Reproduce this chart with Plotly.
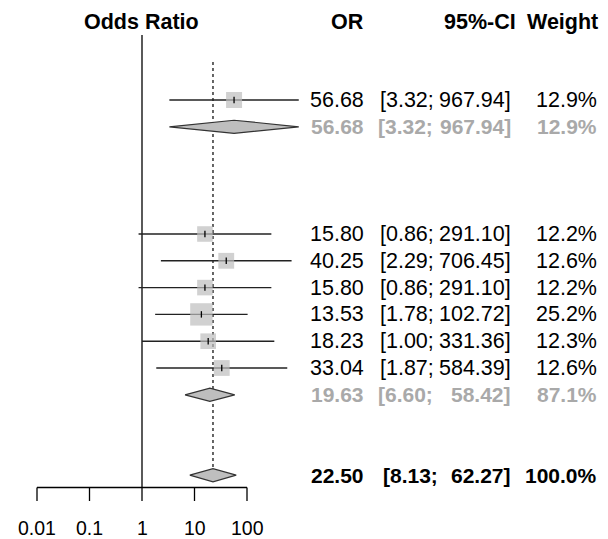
import math
import plotly.graph_objects as go

# ---------------- data ----------------
study_or = [56.68, 15.80, 40.25, 15.80, 13.53, 18.23, 33.04]
study_lo = [3.32, 0.86, 2.29, 0.86, 1.78, 1.00, 1.87]
study_hi = [967.94, 291.10, 706.45, 291.10, 102.72, 331.36, 584.39]
study_w = [12.9, 12.2, 12.6, 12.2, 25.2, 12.3, 12.6]
study_row = [0, 5, 6, 7, 8, 9, 10]

sub_or = [56.68, 19.63]
sub_lo = [3.32, 6.60]
sub_hi = [967.94, 58.42]
sub_w = [12.9, 87.1]
sub_row = [1, 11]

tot_or = 22.50
tot_lo = 8.13
tot_hi = 62.27
tot_w = 100.0
tot_row = 14

tick_vals = [0.01, 0.1, 1, 10, 100]
tick_text = ["0.01", "0.1", "1", "10", "100"]
headers = ["Odds Ratio", "OR", "95%-CI", "Weight"]

# ---------------- geometry (target = page pixels) ----------------
OFF = 8                      # default body margin of the html page
W, H = 608 - OFF, 539 - OFF  # figure size
PX0 = 142.0 - OFF            # figure pixel of OR = 1
PXD = 52.5                   # pixels per decade
PY0 = 100.0 - OFF            # figure pixel of row 0
PYR = 26.8                   # pixels per row

def px(p):
    """page pixel -> paper fraction"""
    return (p - OFF) / W

def row_of(p):
    """page pixel -> row units"""
    return (p - OFF - PY0) / PYR

xr = [-PX0 / PXD, (W - PX0) / PXD]
yr = [(H - PY0) / PYR, -PY0 / PYR]

FONT = "Arial, Liberation Sans, sans-serif"
FS = 21.5
FSB = 21
GRAY_TXT = "#A9A9A9"
BOX = "#BEBEBE"

fig = go.Figure()

def seg(x, y, color="black", width=1.3, dash="solid"):
    fig.add_trace(go.Scatter(x=x, y=y, mode="lines",
                             line=dict(color=color, width=width, dash=dash),
                             hoverinfo="skip"))

# reference lines
seg([1, 1], [row_of(35), row_of(487.5)], width=1.3)
seg([tot_or, tot_or], [row_of(62), tot_row - 0.25], width=1.2, dash="dot")

# drawn x axis (line + ticks) in data coordinates
AX_R = row_of(487.5)
TK_R = row_of(501)
seg([tick_vals[0], tick_vals[-1]], [AX_R, AX_R], width=1.3)
for v in tick_vals:
    seg([v, v], [AX_R, TK_R], width=1.3)
for v, t in zip(tick_vals, tick_text):
    fig.add_annotation(x=math.log10(v), y=row_of(528), xref="x", yref="y", text=t,
                       showarrow=False, xanchor="center", yanchor="middle",
                       font=dict(family=FONT, size=19.5, color="black"))

# study CIs
for o, lo, hi, r in zip(study_or, study_lo, study_hi, study_row):
    seg([lo, hi], [r, r], color="#222222", width=1.4)

# squares
fig.add_trace(go.Scatter(x=study_or, y=study_row, mode="markers",
                         marker=dict(symbol="square", color=BOX,
                                     size=[16 * (w / 12.9) ** 0.5 for w in study_w],
                                     line=dict(width=0)),
                         hoverinfo="skip"))
# point estimate ticks
for o, r in zip(study_or, study_row):
    seg([o, o], [r - 0.12, r + 0.12], width=1.3)

# diamonds
HD = 0.245
for o, lo, hi, r in list(zip(sub_or, sub_lo, sub_hi, sub_row)) + [(tot_or, tot_lo, tot_hi, tot_row)]:
    fig.add_trace(go.Scatter(x=[lo, o, hi, o, lo], y=[r, r - HD, r, r + HD, r],
                             mode="lines", fill="toself", fillcolor=BOX,
                             line=dict(color="#333333", width=1.2), hoverinfo="skip"))

# ---------------- text ----------------
X_OR = 366
X_CIL = 378
X_CIR = 513
X_W = 599

def row_text(r, o, lo, hi, w, color, bold, lo_x=X_CIL):
    def t(s):
        return f"<b>{s}</b>" if bold else s
    f = dict(family=FONT, size=FSB if bold else FS, color=color)
    fig.add_annotation(x=px(X_OR), y=r, xref="paper", yref="y", text=t(f"{o:.2f}"),
                       showarrow=False, xanchor="right", yanchor="middle", font=f)
    fig.add_annotation(x=px(lo_x), y=r, xref="paper", yref="y", text=t(f"[{lo:.2f};"),
                       showarrow=False, xanchor="left", yanchor="middle", font=f)
    fig.add_annotation(x=px(X_CIR), y=r, xref="paper", yref="y", text=t(f"{hi:.2f}]"),
                       showarrow=False, xanchor="right", yanchor="middle", font=f)
    fig.add_annotation(x=px(X_W), y=r, xref="paper", yref="y", text=t(f"{w:.1f}%"),
                       showarrow=False, xanchor="right", yanchor="middle", font=f)

for o, lo, hi, w, r in zip(study_or, study_lo, study_hi, study_w, study_row):
    row_text(r, o, lo, hi, w, "black", False)
for o, lo, hi, w, r in zip(sub_or, sub_lo, sub_hi, sub_w, sub_row):
    row_text(r, o, lo, hi, w, GRAY_TXT, True, lo_x=376)
row_text(tot_row, tot_or, tot_lo, tot_hi, tot_w, "black", True, lo_x=381)

hf = dict(family=FONT, size=FS, color="black")
HROW = row_of(22)
fig.add_annotation(x=px(141), y=HROW, xref="paper", yref="y", text=f"<b>{headers[0]}</b>",
                   showarrow=False, xanchor="center", yanchor="middle", font=hf)
fig.add_annotation(x=px(X_OR), y=HROW, xref="paper", yref="y", text=f"<b>{headers[1]}</b>",
                   showarrow=False, xanchor="right", yanchor="middle", font=hf)
fig.add_annotation(x=px(518), y=HROW, xref="paper", yref="y", text=f"<b>{headers[2]}</b>",
                   showarrow=False, xanchor="right", yanchor="middle", font=hf)
fig.add_annotation(x=px(600), y=HROW, xref="paper", yref="y", text=f"<b>{headers[3]}</b>",
                   showarrow=False, xanchor="right", yanchor="middle", font=hf)

# ---------------- layout ----------------
fig.update_layout(
    width=W, height=H,
    margin=dict(l=0, r=0, t=0, b=0),
    paper_bgcolor="white", plot_bgcolor="white",
    showlegend=False,
    xaxis=dict(type="log", range=xr, visible=False, fixedrange=True),
    yaxis=dict(range=yr, visible=False, fixedrange=True),
)

fig.write_html("out.html")
